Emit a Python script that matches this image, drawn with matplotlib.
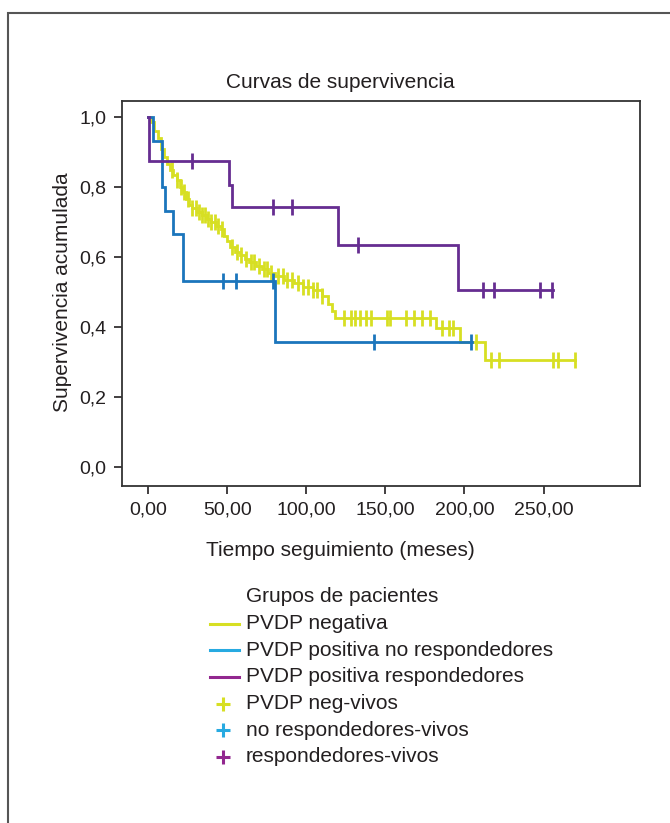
import numpy as np
import matplotlib
matplotlib.use("Agg")
import matplotlib.pyplot as plt
from matplotlib.lines import Line2D
from matplotlib.patches import Rectangle

plt.rcParams['font.family'] = ['Liberation Sans', 'DejaVu Sans']

# Kaplan-Meier curves (time in months, cumulative survival)
neg_t = [0, 2, 4, 6, 8, 10, 12, 14, 16, 18, 20, 22, 24, 26, 28, 31, 34, 37, 40,
         43, 46, 48, 50, 52, 55, 58, 61, 64, 68, 72, 76, 80, 86, 92, 98, 104,
         110, 114, 116, 118, 182, 197, 213]
neg_s = [1.0, 0.985, 0.96, 0.94, 0.91, 0.885, 0.865, 0.85, 0.835, 0.82, 0.80,
         0.785, 0.765, 0.75, 0.74, 0.73, 0.72, 0.71, 0.70, 0.69, 0.68, 0.66,
         0.645, 0.63, 0.615, 0.605, 0.595, 0.585, 0.575, 0.565, 0.555, 0.545,
         0.535, 0.525, 0.515, 0.505, 0.49, 0.465, 0.445, 0.425, 0.398, 0.356,
         0.306]
neg_end = 270
neg_cens = [15, 18, 21, 23, 25, 28, 30, 32, 34, 36, 38, 40, 42, 44, 47, 53, 56,
            59, 62, 65, 67, 70, 73, 75, 78, 82, 85, 88, 91, 95, 98, 101, 104,
            107, 110, 124, 128, 131, 134, 138, 141, 151, 153, 163, 168, 173,
            178, 186, 190, 193, 207, 217, 222, 256, 259, 270]

nores_t = [0, 3, 9, 11, 16, 22, 80]
nores_s = [1.0, 0.933, 0.80, 0.733, 0.667, 0.533, 0.356]
nores_end = 205
nores_cens = [47.5, 55.7, 79, 143, 204]

res_t = [0, 0.5, 51, 53, 120, 196]
res_s = [1.0, 0.875, 0.806, 0.743, 0.634, 0.505]
res_end = 256
res_cens = [28, 79, 91, 133, 212, 218.5, 248, 255.5]

yellow = '#d7df23'
blue = '#1b75bc'
purple = '#662d91'
leg_blue = '#27aae1'
leg_purple = '#92278f'
txt = '#231f20'

W, H = 670, 823
fig = plt.figure(figsize=(W / 100, H / 100), dpi=100)
ax = fig.add_axes([122 / W, 1 - 486 / H, (640 - 122) / W, (486 - 101) / H])

def step_at(ts, ss, t):
    i = np.searchsorted(ts, t, side='right') - 1
    return np.asarray(ss)[i]

for ts, ss, end, cens, col in [(neg_t, neg_s, neg_end, neg_cens, yellow),
                               (nores_t, nores_s, nores_end, nores_cens, blue),
                               (res_t, res_s, res_end, res_cens, purple)]:
    xs = list(ts) + [end]
    ys = list(ss) + [ss[-1]]
    ax.step(xs, ys, where='post', color=col, lw=2.0, solid_joinstyle='miter')
    ax.plot(cens, step_at(ts, ss, cens), ls='none', marker='|',
            ms=11, mew=2.0, color=col)

ax.set_xlim(-16.5, 311)
ax.set_ylim(-0.054, 1.046)
ax.set_xticks([0, 50, 100, 150, 200, 250])
ax.set_xticklabels(['0,00', '50,00', '100,00', '150,00', '200,00', '250,00'])
ax.set_yticks([0, 0.2, 0.4, 0.6, 0.8, 1.0])
ax.set_yticklabels(['0,0', '0,2', '0,4', '0,6', '0,8', '1,0'])
ax.tick_params(direction='out', length=6, width=1.2, color=txt,
               labelsize=14, labelcolor=txt, pad=5)
for sp in ax.spines.values():
    sp.set_color('#333333')
    sp.set_linewidth(1.3)

fig.text(340 / W, 1 - 83 / H, 'Curvas de supervivencia', ha='center',
         va='center', fontsize=15, color=txt)
fig.text(340 / W, 1 - 551 / H, 'Tiempo seguimiento (meses)', ha='center',
         va='center', fontsize=15, color=txt)
fig.text(62 / W, 1 - 292 / H, 'Supervivencia acumulada', ha='center',
         va='center', rotation=90, fontsize=15, color=txt)

# legend drawn by hand
fig.text(246 / W, 1 - 597 / H, 'Grupos de pacientes', ha='left', va='center',
         fontsize=15, color=txt)
entries = [('PVDP negativa', yellow, 'line'),
           ('PVDP positiva no respondedores', leg_blue, 'line'),
           ('PVDP positiva respondedores', leg_purple, 'line'),
           ('PVDP neg-vivos', yellow, 'plus'),
           ('no respondedores-vivos', leg_blue, 'plus'),
           ('respondedores-vivos', leg_purple, 'plus')]
for i, (lab, col, kind) in enumerate(entries):
    y = 1 - (623.5 + i * 26.7) / H
    if kind == 'line':
        fig.add_artist(Line2D([210 / W, 239 / W], [y, y], color=col, lw=2.2,
                              transform=fig.transFigure))
    else:
        fig.add_artist(Line2D([223 / W], [y], color=col, marker='+', ms=10,
                              mew=2.2, transform=fig.transFigure))
    fig.text(246 / W, y, lab, ha='left', va='center', fontsize=15, color=txt)

# outer frame (cut off at right and bottom)
fig.add_artist(Rectangle((8 / W, -0.05), 1.1, 1 - 13 / H + 0.05,
                         transform=fig.transFigure, fill=False,
                         edgecolor='#555555', lw=1.5))

fig.savefig('out.png', dpi=100)
